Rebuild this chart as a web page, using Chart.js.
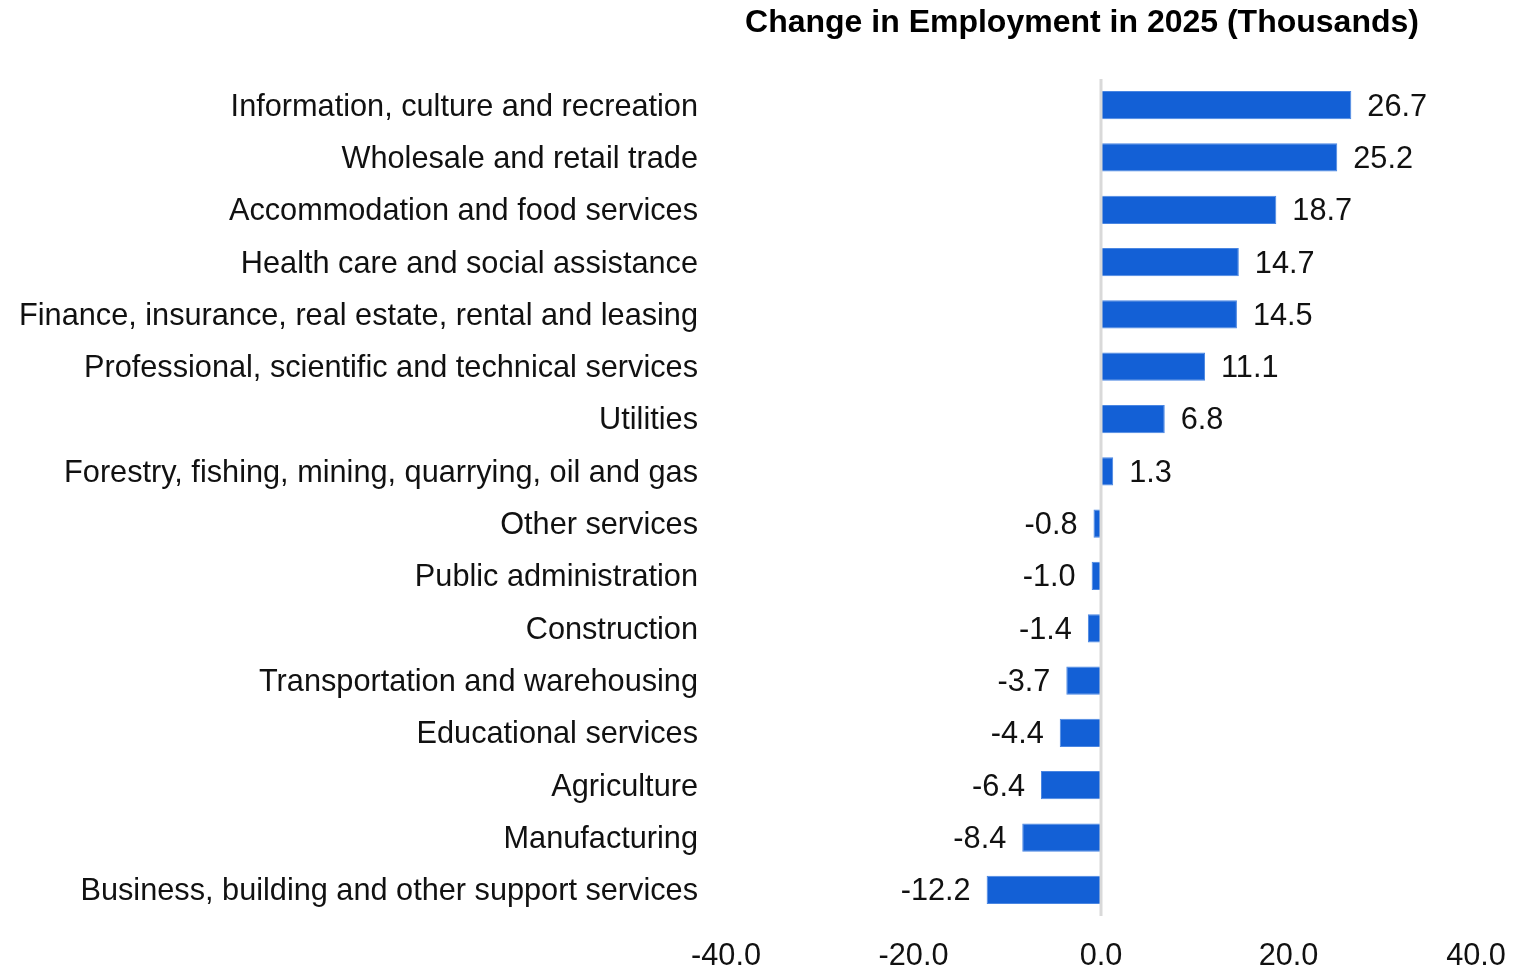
<!DOCTYPE html>
<html>
<head>
<meta charset="utf-8">
<script src="https://cdn.jsdelivr.net/npm/chart.js@4.4.1/dist/chart.umd.min.js"></script>
<style>
  html, body { margin: 0; padding: 0; background: #fff; }
  #wrap { width: 1534px; height: 968px; position: relative; }
</style>
</head>
<body>
<div id="wrap"><canvas id="chart"></canvas></div>
<script>
// industries, top to bottom
const industries = [
  "Information, culture and recreation",
  "Wholesale and retail trade",
  "Accommodation and food services",
  "Health care and social assistance",
  "Finance, insurance, real estate, rental and leasing",
  "Professional, scientific and technical services",
  "Utilities",
  "Forestry, fishing, mining, quarrying, oil and gas",
  "Other services",
  "Public administration",
  "Construction",
  "Transportation and warehousing",
  "Educational services",
  "Agriculture",
  "Manufacturing",
  "Business, building and other support services",
];
// change in employment, thousands
const changes = [26.7, 25.2, 18.7, 14.7, 14.5, 11.1, 6.8, 1.3, -0.8, -1.0, -1.4, -3.7, -4.4, -6.4, -8.4, -12.2];
const xTicks = [-40, -20, 0, 20, 40];
const titleText = "Change in Employment in 2025 (Thousands)";

const FONT = "'Liberation Sans', Arial, sans-serif";
const SIZE = 30.7;

//draws the value next to each bar, the zero line and the title
const extrasPlugin = {
  id: "extras",
  afterDatasetsDraw(chart) {
    const ctx = chart.ctx;
    const area = chart.chartArea;
    const x0 = chart.scales.x.getPixelForValue(0);
    ctx.save();
    // zero line on top of the bars
    ctx.strokeStyle = "#d9d9d9";
    ctx.lineWidth = 3;
    ctx.beginPath();
    ctx.moveTo(x0, area.top);
    ctx.lineTo(x0, area.bottom);
    ctx.stroke();
    // value labels
    ctx.font = SIZE + "px " + FONT;
    ctx.fillStyle = "#111";
    ctx.textBaseline = "middle";
    const meta = chart.getDatasetMeta(0);
    meta.data.forEach((bar, i) => {
      const v = changes[i];
      if (v >= 0) {
        ctx.textAlign = "left";
        ctx.fillText(v.toFixed(1), bar.x + 16, bar.y + 2);
      } else {
        ctx.textAlign = "right";
        ctx.fillText(v.toFixed(1), bar.x - 16, bar.y + 2);
      }
    });
    // title
    ctx.font = "bold 32px " + FONT;
    ctx.textAlign = "center";
    ctx.fillStyle = "#000";
    ctx.fillText(titleText, 1082, 23);
    ctx.restore();
  },
};

let myChart = new Chart(document.getElementById("chart"), {
  type: "bar",
  plugins: [extrasPlugin],
  data: {
    labels: industries,
    datasets: [
      {
        data: changes,
        backgroundColor: "#1360d6",
        borderColor: "#4a86e2",
        borderWidth: 1,
        borderSkipped: false,
        categoryPercentage: 1,
        barPercentage: 0.54,
      },
    ],
  },
  options: {
    indexAxis: "y",
    responsive: true,
    maintainAspectRatio: false,
    animation: false,
    layout: { padding: { top: 79, right: 58, left: 0, bottom: 0 } },
    plugins: {
      legend: { display: false },
      tooltip: { enabled: false },
      title: { display: false },
    },
    scales: {
      x: {
        min: -40,
        max: 40,
        afterBuildTicks: (scale) => {
          scale.ticks = xTicks.map((v) => ({ value: v }));
        },
        afterFit: (scale) => {
          scale.height = 52;
        },
        grid: { display: false, drawTicks: false },
        border: { display: false },
        ticks: {
          padding: 22,
          color: "#111",
          font: { size: SIZE, family: FONT },
          maxRotation: 0,
          callback: (v) => Number(v).toFixed(1),
        },
      },
      y: {
        afterFit: (scale) => {
          scale.width = 726;
        },
        grid: { display: false, drawTicks: false },
        border: { display: false },
        ticks: {
          padding: 28,
          labelOffset: 2,
          color: "#111",
          autoSkip: false,
          font: { size: SIZE, family: FONT },
        },
      },
    },
  },
});
</script>
</body>
</html>
